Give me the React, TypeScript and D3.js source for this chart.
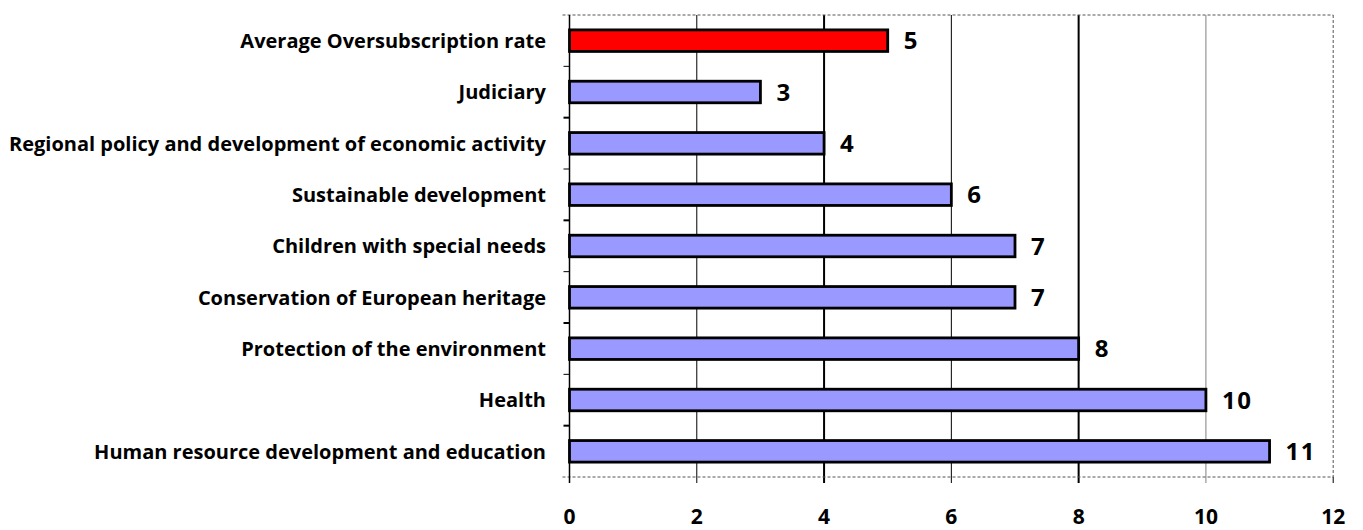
import React from "react";
import * as d3 from "d3";

const categories = [
  "Average Oversubscription rate",
  "Judiciary",
  "Regional policy and development of economic activity",
  "Sustainable development",
  "Children with special needs",
  "Conservation of European heritage",
  "Protection of the environment",
  "Health",
  "Human resource development and education",
];
const values = [5, 3, 4, 6, 7, 7, 8, 10, 11];
const highlight = "Average Oversubscription rate";
const xTicks = [0, 2, 4, 6, 8, 10, 12];

const width = 1363;
const height = 530;
const margin = { top: 15, right: 30, bottom: 53, left: 569.5 };
const font = "'Open Sans', Lato, sans-serif";

// grid styling as it shows on the original (4 and 8 come out heavier)
const gridStyle: Record<number, { w: number; c: string }> = {
  2: { w: 1, c: "#000" },
  4: { w: 2, c: "#000" },
  6: { w: 1, c: "#000" },
  8: { w: 2, c: "#000" },
  10: { w: 1, c: "#808080" },
};

const App: React.FC = () => {
  const x = d3
    .scaleLinear()
    .domain([0, 12])
    .range([margin.left, width - margin.right + 0.2]);
  const y = d3
    .scaleBand<string>()
    .domain(categories)
    .range([margin.top, height - margin.bottom])
    .paddingInner(0.58)
    .paddingOuter(0.29);

  const step = y.step();
  const top = margin.top;
  const bottom = height - margin.bottom;
  const left = x(0);
  const right = x(12);
  const boundaries = d3.range(categories.length + 1).map((i) => top + i * step);

  return (
    <svg
      width={width}
      height={height}
      style={{ position: "absolute", left: 0, top: 0, display: "block", background: "#fff" }}
    >
      {/* gridlines */}
      {xTicks
        .filter((t) => gridStyle[t])
        .map((t) => (
          <line
            key={"g" + t}
            x1={x(t)}
            x2={x(t)}
            y1={top}
            y2={bottom + 6}
            stroke={gridStyle[t].c}
            strokeWidth={gridStyle[t].w}
          />
        ))}

      {/* frame: dashed top / right / bottom */}
      <line x1={left - 7} x2={right} y1={top} y2={top} stroke="#555" strokeDasharray="3,2" />
      <line x1={right} x2={right} y1={top} y2={bottom} stroke="#555" strokeDasharray="3,2" />
      <line x1={left - 7} x2={right} y1={bottom} y2={bottom} stroke="#555" strokeDasharray="3,2" />

      {/* bottom ticks */}
      {[0, 12].map((t) => (
        <line key={"t" + t} x1={x(t)} x2={x(t)} y1={bottom} y2={bottom + 6} stroke="#000" strokeWidth={1} />
      ))}

      {/* left axis */}
      <line x1={left} x2={left} y1={top} y2={bottom + 6} stroke="#000" strokeWidth={1.5} />
      {boundaries.slice(1, -1).map((b, i) => (
        <line key={"lt" + i} x1={left - 6} x2={left} y1={b} y2={b} stroke="#000" strokeWidth={i % 2 ? 2 : 1} />
      ))}

      {/* bars */}
      {categories.map((c, i) => (
        <rect
          key={c}
          x={x(0)}
          y={y(c)}
          width={x(values[i]) - x(0)}
          height={y.bandwidth()}
          fill={c === highlight ? "#FF0000" : "#9999FF"}
          stroke="#000"
          strokeWidth={2.8}
        />
      ))}

      {/* value labels */}
      {categories.map((c, i) => (
        <text
          key={"v" + c}
          x={x(values[i]) + 16}
          y={(y(c) ?? 0) + y.bandwidth() / 2}
          dy="0.36em"
          fontFamily={font}
          fontWeight="bold"
          fontSize={24}
          letterSpacing={1.5}
          fill="#000"
        >
          {values[i]}
        </text>
      ))}

      {/* category labels */}
      {categories.map((c) => (
        <text
          key={"c" + c}
          x={546}
          y={(y(c) ?? 0) + y.bandwidth() / 2}
          dy="0.36em"
          textAnchor="end"
          fontFamily={font}
          fontWeight="bold"
          fontSize={20}
          fill="#000"
        >
          {c}
        </text>
      ))}

      {/* x tick labels */}
      {xTicks.map((t) => (
        <text
          key={"xl" + t}
          x={x(t)}
          y={524}
          textAnchor="middle"
          fontFamily={font}
          fontWeight="bold"
          fontSize={21}
          fill="#000"
        >
          {t}
        </text>
      ))}
    </svg>
  );
};

export default App;
